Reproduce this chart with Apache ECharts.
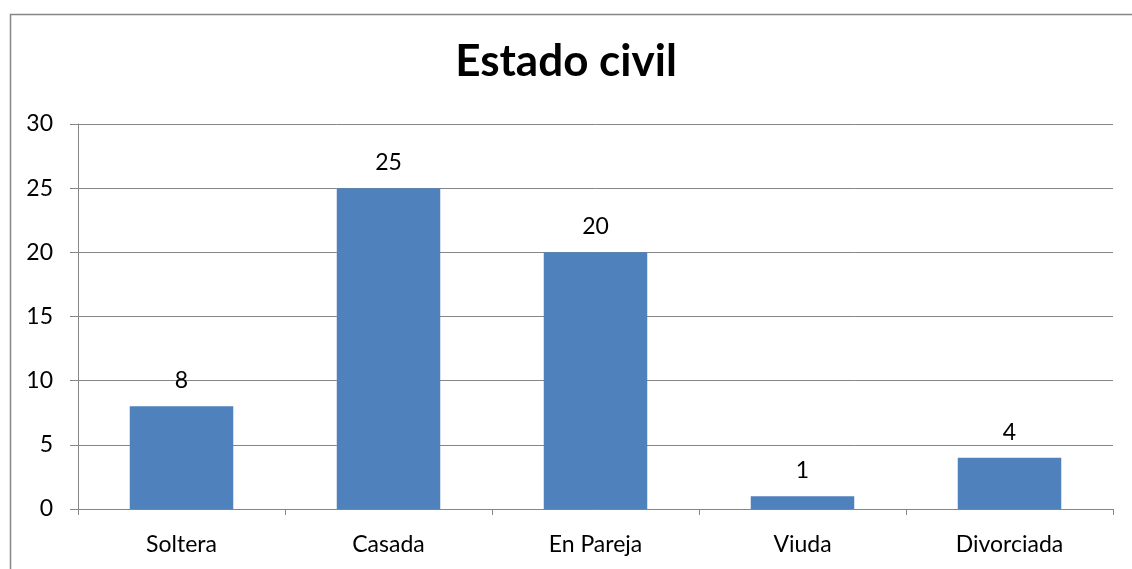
<!DOCTYPE html>
<html><head><meta charset="utf-8">
<script src="https://cdn.jsdelivr.net/npm/echarts@6/dist/echarts.min.js"></script>
<style>html,body{margin:0;padding:0;background:#fff}#c{width:1132px;height:569px}</style>
</head><body><div id="c"></div>
<script>
const categories = ['Soltera', 'Casada', 'En Pareja', 'Viuda', 'Divorciada'];
const values = [8, 25, 20, 1, 4];
const titleText = 'Estado civil';

const chart = echarts.init(document.getElementById('c'), null, {renderer: 'canvas'});
chart.setOption({
  animation: false,
  backgroundColor: '#fff',
  graphic: [{
    type: 'rect', left: 8, top: 12, z: -1,
    shape: {width: 1200, height: 700},
    style: {fill: 'none', stroke: '#868686', lineWidth: 1.5}
  }],
  title: {
    text: titleText, left: 'center', top: 35,
    textStyle: {fontFamily: 'Lato', fontWeight: 'bold', fontSize: 44, color: '#000'}
  },
  grid: {left: 78, right: 19, top: 124, bottom: 60, containLabel: false},
  xAxis: {
    type: 'category', data: categories,
    axisLine: {lineStyle: {color: '#868686', width: 1}},
    axisTick: {show: true, length: 6, lineStyle: {color: '#868686'}},
    axisLabel: {color: '#000', fontFamily: 'Lato', fontSize: 23, margin: 24},
    splitLine: {show: false}
  },
  yAxis: {
    type: 'value', min: 0, max: 30, interval: 5,
    axisLine: {show: true, lineStyle: {color: '#868686', width: 1}},
    axisTick: {show: true, length: 8, lineStyle: {color: '#868686'}},
    axisLabel: {color: '#000', fontFamily: 'Lato', fontSize: 23, margin: 25},
    splitLine: {show: true, lineStyle: {color: '#868686', width: 1}}
  },
  series: [{
    type: 'bar', data: values, barCategoryGap: '50%',
    itemStyle: {color: '#4F81BD'},
    label: {show: true, position: 'top', distance: 14, color: '#000', fontFamily: 'Lato', fontSize: 23}
  }]
});
</script></body></html>
